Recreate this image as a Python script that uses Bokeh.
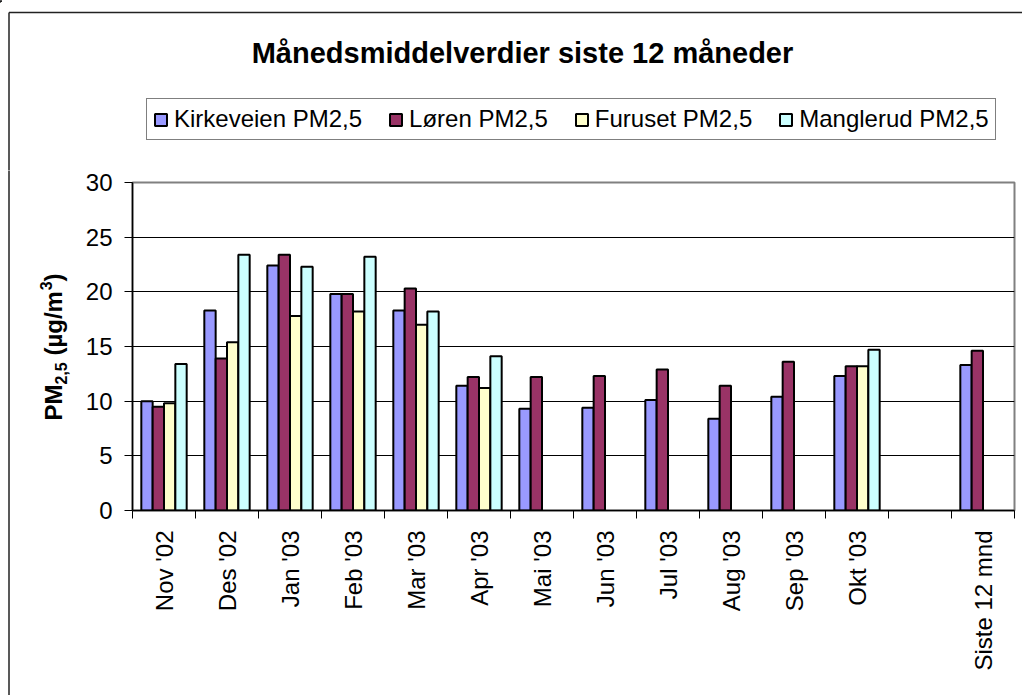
from math import pi
from bokeh.plotting import figure
from bokeh.layouts import column, row
from bokeh.models import (ColumnDataSource, Range1d, LinearAxis, FixedTicker, SingleIntervalTicker,
                          Legend, LegendItem, Label, Grid)
from bokeh.embed import file_html
from bokeh.resources import INLINE

# ---------------- data ----------------
categories = ["Nov '02", "Des '02", "Jan '03", "Feb '03", "Mar '03", "Apr '03", "Mai '03",
              "Jun '03", "Jul '03", "Aug '03", "Sep '03", "Okt '03", "", "Siste 12 mnd"]
kirkeveien = [10.0, 18.3, 22.4, 19.8, 18.3, 11.4, 9.3, 9.4, 10.1, 8.4, 10.4, 12.3, None, 13.3]
loren      = [9.5, 13.9, 23.4, 19.8, 20.3, 12.2, 12.2, 12.3, 12.9, 11.4, 13.6, 13.2, None, 14.6]
furuset    = [9.8, 15.4, 17.8, 18.2, 17.0, 11.2, None, None, None, None, None, 13.2, None, None]
manglerud  = [13.4, 23.4, 22.3, 23.2, 18.2, 14.1, None, None, None, None, None, 14.7, None, None]
series_names = ["Kirkeveien PM2,5", "Løren PM2,5", "Furuset PM2,5", "Manglerud PM2,5"]
title_text = "Månedsmiddelverdier siste 12 måneder"
y_ticks_step = 5
y_max = 30

FONT = "Liberation Sans"
colors = ["#9999FF", "#993366", "#FFFFCC", "#CCFFFF"]
offsets = [-0.27, -0.09, 0.09, 0.27]
n = len(categories)
centers = [i + 0.5 for i in range(n)]

W, H = 1022, 695
TOP_H = 170
LEFT_W = 76
BORDER_X = 8.5
BORDER_Y = 12


def bare(width, height, x_end, y_start):
    f = figure(width=width, height=height, x_range=Range1d(0, x_end), y_range=Range1d(y_start, 0),
               output_backend="svg", toolbar_location=None, x_axis_location=None,
               y_axis_location=None, min_border=0)
    f.center = [r for r in f.center if not isinstance(r, Grid)]
    f.outline_line_color = None
    f.background_fill_color = "white"
    f.border_fill_color = "white"
    return f


# ---------------- top: title + legend ----------------
top = bare(W, TOP_H, W, TOP_H)
top.segment(x0=[BORDER_X, BORDER_X], y0=[BORDER_Y, BORDER_Y], x1=[W + 5, BORDER_X], y1=[BORDER_Y, TOP_H + 5],
            line_color="#222222", line_width=1.5)
top.add_layout(Label(x=522, y=52, text=title_text, text_font=FONT, text_font_style="bold",
                     text_font_size="29px", text_color="black", text_align="center",
                     text_baseline="alphabetic"))
items = []
for name, color in zip(series_names, colors):
    # legend swatch renderer (its single bar lies outside the visible range)
    r = top.vbar(x=[-1000], top=[1], width=1, fill_color=color, line_color="black", line_width=2)
    items.append(LegendItem(label=name, renderers=[r]))
legend = Legend(items=items, orientation="horizontal", location=(146, TOP_H - 140),
                label_text_font=FONT, label_text_font_size="24px", label_text_color="black",
                glyph_width=15, glyph_height=15, label_standoff=6, spacing=26, padding=6,
                margin=0, border_line_color="black", border_line_width=1,
                background_fill_color="white", background_fill_alpha=1)
top.add_layout(legend, "center")

# ---------------- left: y axis title ----------------
MAIN_H = H - TOP_H
left = bare(LEFT_W, MAIN_H, LEFT_W, MAIN_H)
left.segment(x0=[BORDER_X], y0=[-5], x1=[BORDER_X], y1=[MAIN_H + 5], line_color="#222222", line_width=1.5)
pieces = [("PM", 24, 52.5, 36.0), ("2,5", 16, 60.5, 28.9), ("(µg/m", 24, 52.5, 65.3),
          ("3", 16, 45.5, 8.9), (")", 24, 52.5, 8.0)]
ypos = 420 - TOP_H
for txt, fs, xb, w in pieces:
    left.add_layout(Label(x=xb, y=ypos, text=txt, angle=pi / 2, text_font=FONT,
                          text_font_style="bold", text_font_size=f"{fs}px", text_color="black",
                          text_align="left", text_baseline="alphabetic"))
    ypos -= w

# ---------------- main chart ----------------
p = figure(x_range=Range1d(0, n), y_range=Range1d(0, y_max),
           width=W - LEFT_W, height=MAIN_H, output_backend="svg", toolbar_location=None,
           x_axis_location=None, y_axis_location=None,
           min_border_left=132 - LEFT_W, min_border_right=8, min_border_top=182 - TOP_H,
           min_border_bottom=H - 510)
p.center = [r for r in p.center if not isinstance(r, Grid)]
p.background_fill_color = "white"
p.border_fill_color = "white"
p.outline_line_color = "#808080"
p.outline_line_width = 2

p.add_layout(Grid(dimension=1, ticker=FixedTicker(ticks=list(range(y_ticks_step, y_max, y_ticks_step))),
                  grid_line_color="black", grid_line_width=1))

yax = LinearAxis(ticker=SingleIntervalTicker(interval=y_ticks_step, num_minor_ticks=0),
                 major_tick_out=8, major_tick_in=0, minor_tick_line_color=None,
                 major_label_text_font=FONT, major_label_text_font_size="24px",
                 major_label_text_color="black", major_label_standoff=12,
                 axis_line_color="black", axis_line_width=1.5, major_tick_line_color="black")
p.add_layout(yax, "left")

xax = LinearAxis(ticker=FixedTicker(ticks=centers, minor_ticks=list(range(n + 1))),
                 major_label_overrides={c: lab for c, lab in zip(centers, categories)},
                 major_tick_out=0, major_tick_in=0, minor_tick_out=8, minor_tick_in=0,
                 minor_tick_line_color="black", minor_tick_line_width=1,
                 major_label_orientation=pi / 2, major_label_text_font=FONT,
                 major_label_text_font_size="24px", major_label_text_color="black",
                 major_label_standoff=12, axis_line_color="black", axis_line_width=1.5)
p.add_layout(xax, "below")

for name, vals, color, off in zip(series_names, [kirkeveien, loren, furuset, manglerud], colors, offsets):
    xs = [c + off for c, v in zip(centers, vals) if v is not None]
    ys = [v for v in vals if v is not None]
    src = ColumnDataSource(dict(x=xs, val=ys))
    p.vbar(x="x", top="val", width=0.18, source=src,
           fill_color=color, line_color="black", line_width=2, name=name)

layout = column(top, row(column(left, spacing=0), p, spacing=0), spacing=0)
open("out.html", "w").write(file_html(layout, INLINE))
